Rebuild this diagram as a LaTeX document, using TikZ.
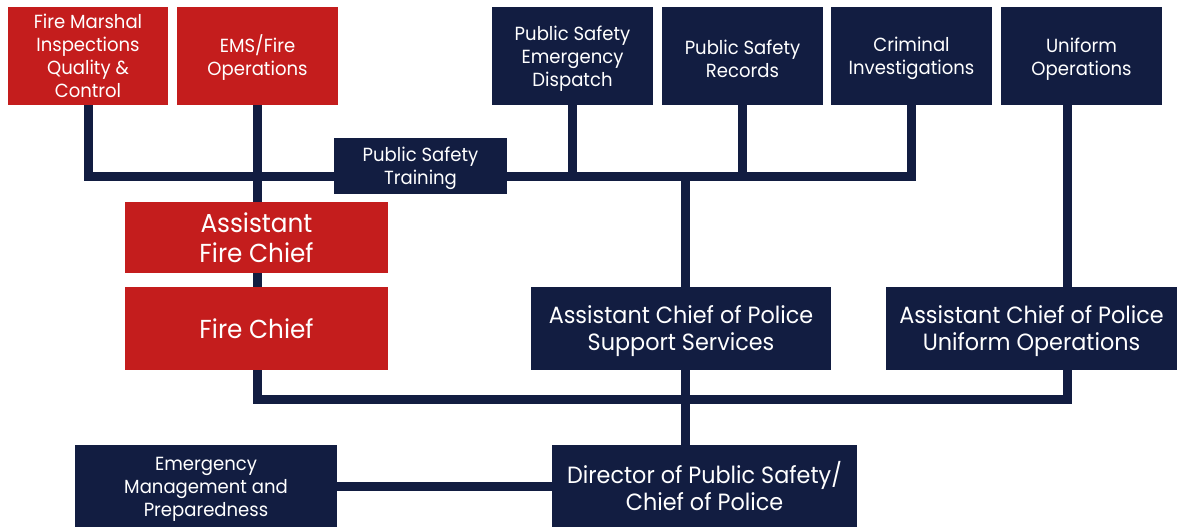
\documentclass[tikz,border=0pt]{standalone}
\usepackage{fontspec}
\setmainfont[FakeStretch=0.95]{Poppins}
\usetikzlibrary{backgrounds}
\definecolor{fred}{HTML}{C41D1D}
\definecolor{navy}{HTML}{121D41}
\newcommand\lowS{\rule{0pt}{20pt}}
\newcommand\lowM{\rule{0pt}{23.5pt}}
\tikzset{
  box/.style={inner sep=0pt, outer sep=0pt, align=center, text=white},
  redbox/.style={box, fill=fred},
  navybox/.style={box, fill=navy},
  small/.style={font=\fontsize{19}{23}\selectfont},
  mid/.style={font=\fontsize{23.5}{26.5}\selectfont},
  big/.style={font=\fontsize{26}{29.5}\selectfont},
  conn/.style={draw=navy, line width=9pt},
}
\begin{document}
\begin{tikzpicture}[x=1pt,y=-1pt]
\useasboundingbox (0,0) rectangle (1177,527);
% top row
\node[redbox,small,minimum width=160,minimum height=98] (fm) at (88,56) {Fire Marshal\\Inspections\\Quality \&\\Control};
\node[redbox,small,minimum width=161,minimum height=98] (ems) at (257.5,56) {\lowS EMS/Fire\\Operations};
\node[navybox,small,minimum width=161,minimum height=98] (disp) at (572.5,56) {\lowS Public Safety\\Emergency\\Dispatch};
\node[navybox,small,minimum width=161,minimum height=98] (rec) at (742.5,56) {\lowS Public Safety\\Records};
\node[navybox,small,minimum width=161,minimum height=98] (crim) at (911.5,56) {\lowS Criminal\\Investigations};
\node[navybox,small,minimum width=161,minimum height=98] (uo) at (1081.5,56) {\lowS Uniform\\Operations};
% training
\node[navybox,small,minimum width=173,minimum height=56] (tr) at (420.5,166) {\lowS Public Safety\\Training};
% fire chiefs
\node[redbox,big,minimum width=263,minimum height=71] (afc) at (256.5,237.5) {Assistant\\Fire Chief};
\node[redbox,big,minimum width=263,minimum height=83] (fc) at (256.5,328.5) {Fire Chief};
% assistant chiefs
\node[navybox,mid,minimum width=300,minimum height=83] (acps) at (681,328.5) {\lowM Assistant Chief of Police\\Support Services};
\node[navybox,mid,minimum width=291,minimum height=83] (acpu) at (1031.5,328.5) {\lowM Assistant Chief of Police\\Uniform Operations};
% bottom
\node[navybox,small,minimum width=262,minimum height=82] (em) at (206,486) {\lowS Emergency\\Management and\\Preparedness};
\node[navybox,mid,minimum width=305,minimum height=82] (dir) at (704.5,486) {Director of Public Safety/\\Chief of Police};
% helper coordinates
\coordinate (busT) at (0,176.5);
\coordinate (busB) at (0,399);
\coordinate (xU) at (1067,0);
\coordinate (xS) at (685,0);
\begin{scope}[on background layer]
\draw[conn] (fm.south) -- (fm.south |- busT) -| (crim.south);
\draw[conn] (disp.south) -- (disp.south |- busT);
\draw[conn] (rec.south) -- (rec.south |- busT);
\draw[conn] (ems.south) -- (ems.south |- busB) -- (xU |- busB) -- (xU |- acpu.south);
\draw[conn] (xU |- uo.south) -- (xU |- acpu.north);
\draw[conn] (xS |- busT) -- (xS |- dir.north);
\draw[conn] (em.east) -- (dir.west);
\end{scope}
\end{tikzpicture}
\end{document}
